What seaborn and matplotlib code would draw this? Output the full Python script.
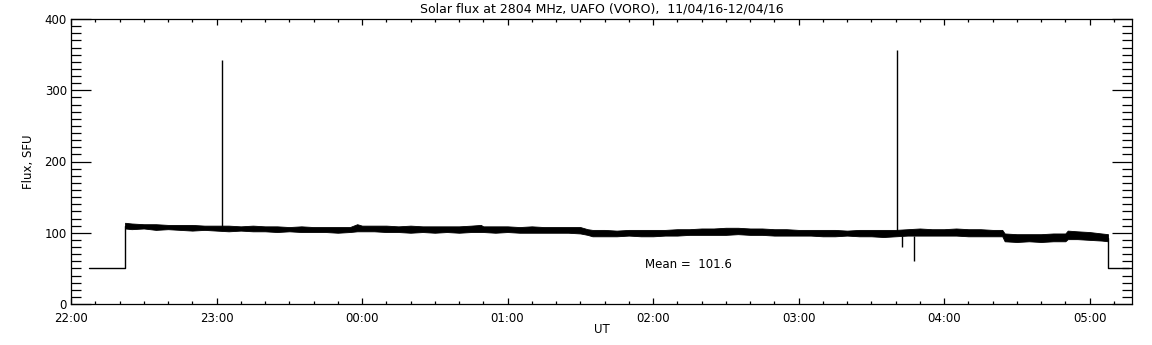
import matplotlib
matplotlib.use("Agg")
import matplotlib.pyplot as plt
import numpy as np
import pandas as pd
import seaborn as sns
from matplotlib.ticker import MultipleLocator, FixedLocator

# time axis in minutes after 22:00 UT
tick_minutes = [0, 60, 120, 180, 240, 300, 360, 420]
tick_labels = ["22:00", "23:00", "00:00", "01:00", "02:00", "03:00", "04:00", "05:00"]

# noisy flux band: lower / upper envelope (SFU)
band_t = [22.3, 25, 30, 35, 40, 45, 50, 55, 60, 65, 70, 75, 80, 85, 90, 95, 100, 105, 110,
          115, 118, 120, 125, 130, 135, 140, 145, 150, 155, 160, 165, 169, 170, 175, 180,
          185, 190, 195, 200, 205, 210, 213, 215, 220, 225, 230, 235, 240, 245, 250, 255,
          260, 265, 270, 275, 280, 285, 290, 295, 300, 305, 310, 315, 320, 325, 330, 335,
          340, 345, 350, 355, 360, 365, 370, 375, 380, 384, 385, 390, 395, 400, 405, 410,
          411, 415, 420, 425, 427.6]
band_lo = [106, 105, 106, 104, 105, 104, 103, 104, 103, 102, 103, 102, 102, 101, 102, 101,
           101, 101, 100, 101, 102, 102, 102, 101, 101, 100, 101, 100, 101, 100, 101, 101,
           101, 100, 101, 100, 100, 100, 100, 100, 99, 97, 95, 95, 95, 96, 95, 95, 96, 96,
           97, 97, 97, 97, 98, 97, 97, 96, 96, 96, 96, 95, 95, 96, 95, 95, 94, 95, 96, 96,
           96, 96, 96, 95, 95, 95, 95, 88, 87, 88, 87, 88, 88, 91, 91, 90, 89, 88]
band_hi = [114, 113, 112, 112, 111, 111, 111, 110, 110, 110, 109, 110, 109, 109, 108, 109,
           108, 108, 108, 108, 112, 110, 110, 110, 109, 110, 109, 109, 109, 109, 110, 111,
           109, 109, 109, 108, 109, 108, 108, 108, 108, 105, 104, 104, 103, 104, 104, 104,
           104, 105, 105, 106, 106, 107, 107, 106, 106, 105, 105, 104, 104, 104, 104, 103,
           104, 104, 104, 104, 105, 106, 105, 105, 106, 105, 105, 104, 104, 99, 98, 98, 98,
           99, 99, 103, 102, 101, 99, 98]

# flat 50 SFU segments before and after the observation
lead_t = [7.4, 22.3, 22.3]
lead_v = [50, 50, 110]
tail_t = [427.6, 427.6, 436.3]
tail_v = [93, 50, 50]

# spikes and dips
spike_t = [62.3, 340.5]
spike_base = [108, 103]
spike_top = [343, 356]
dip_t = [342.7, 347.6]
dip_base = [96, 96]
dip_bottom = [80, 60]

mean_flux = 101.6

sns.set_style("white")
plt.rcParams["font.family"] = ["DejaVu Sans"]
plt.rcParams["font.size"] = 8.5
plt.rcParams["text.color"] = "black"
plt.rcParams["axes.labelcolor"] = "black"

fig = plt.figure(figsize=(11.52, 3.45), dpi=100)
ax = fig.add_axes([71 / 1152, 41 / 345, 1061 / 1152, 285 / 345])

ax.fill_between(band_t, band_lo, band_hi, color="black", lw=0.6, edgecolor="black")
sns.lineplot(x=lead_t, y=lead_v, sort=False, estimator=None, color="black", lw=1.0, ax=ax)
sns.lineplot(x=tail_t, y=tail_v, sort=False, estimator=None, color="black", lw=1.0, ax=ax)
ax.vlines(spike_t, spike_base, spike_top, color="black", lw=1.0)
ax.vlines(dip_t, dip_bottom, dip_base, color="black", lw=1.0)

ax.text(236.7, 55, "Mean =  %.1f" % mean_flux, ha="left", va="center", fontsize=8.5, color="black")

ax.set_xlim(0, 437.5)
ax.set_ylim(0, 400)
ax.xaxis.set_major_locator(FixedLocator(tick_minutes))
ax.set_xticklabels(tick_labels)
ax.xaxis.set_minor_locator(MultipleLocator(10))
ax.yaxis.set_major_locator(MultipleLocator(100))
ax.yaxis.set_minor_locator(MultipleLocator(10))

ax.tick_params(which="both", direction="in", left=True, bottom=True, top=True, right=True,
               colors="black", width=0.9)
ax.tick_params(axis="y", which="major", length=14.4, pad=3, labelsize=8.5)
ax.tick_params(axis="y", which="minor", length=7.2)
ax.tick_params(axis="x", which="major", length=4.3, pad=6, labelsize=8.5)
ax.tick_params(axis="x", which="minor", length=2.2)

for s in ax.spines.values():
    s.set_linewidth(0.9)
    s.set_color("black")

ax.set_xlabel("UT", fontsize=8.5)
ax.xaxis.set_label_coords(0.5, -0.068)
ax.set_ylabel("Flux, SFU", fontsize=8.5)
ax.yaxis.set_label_coords(-0.034, 0.5)
ax.set_title("Solar flux at 2804 MHz, UAFO (VORO),  11/04/16-12/04/16", fontsize=9, pad=5,
             color="black")

fig.savefig("out.png", dpi=100, facecolor="white")
